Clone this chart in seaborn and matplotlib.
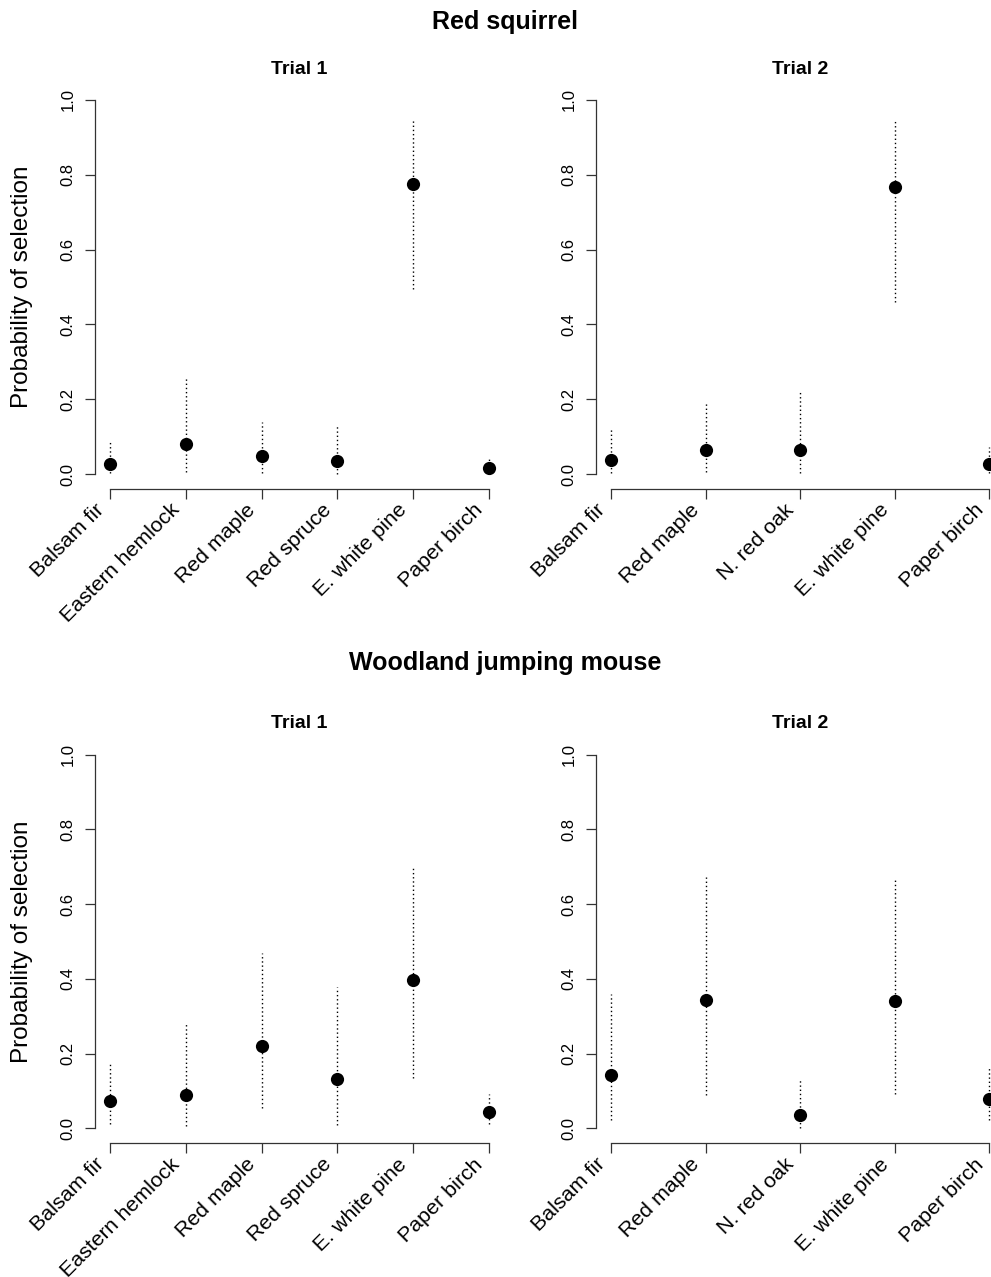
import matplotlib
matplotlib.use("Agg")
import matplotlib.pyplot as plt
import matplotlib.transforms as mtransforms
import seaborn as sns
import pandas as pd

# ---------------- data ----------------
species_titles = ["Red squirrel", "Woodland jumping mouse"]
trial_titles = ["Trial 1", "Trial 2"]

trial1_trees = ["Balsam fir", "Eastern hemlock", "Red maple", "Red spruce",
                "E. white pine", "Paper birch"]
trial2_trees = ["Balsam fir", "Red maple", "N. red oak", "E. white pine",
                "Paper birch"]

squirrel_t1_mean = [0.027, 0.079, 0.048, 0.036, 0.775, 0.016]
squirrel_t1_lower = [0.003, 0.006, 0.004, 0.001, 0.494, 0.002]
squirrel_t1_upper = [0.091, 0.258, 0.138, 0.134, 0.948, 0.039]

squirrel_t2_mean = [0.038, 0.065, 0.065, 0.767, 0.028]
squirrel_t2_lower = [0.002, 0.006, 0.002, 0.460, 0.002]
squirrel_t2_upper = [0.124, 0.193, 0.222, 0.948, 0.073]

mouse_t1_mean = [0.073, 0.089, 0.220, 0.131, 0.396, 0.044]
mouse_t1_lower = [0.012, 0.006, 0.055, 0.009, 0.136, 0.012]
mouse_t1_upper = [0.178, 0.280, 0.470, 0.379, 0.700, 0.091]

mouse_t2_mean = [0.143, 0.343, 0.036, 0.340, 0.078]
mouse_t2_lower = [0.022, 0.089, 0.000, 0.091, 0.022]
mouse_t2_upper = [0.360, 0.673, 0.134, 0.664, 0.167]

y_ticks = [0.0, 0.2, 0.4, 0.6, 0.8, 1.0]
y_label = "Probability of selection"

# ---------------- style ----------------
sns.set_theme(style="white")
plt.rcParams["font.family"] = ["Liberation Sans", "DejaVu Sans"]
plt.rcParams["text.color"] = "black"
plt.rcParams["axes.labelcolor"] = "black"
plt.rcParams["xtick.color"] = "black"
plt.rcParams["ytick.color"] = "black"

W, H = 991, 1277
fig = plt.figure(figsize=(W / 100, H / 100), dpi=100)

panels = [
    (0, 0, trial1_trees, squirrel_t1_mean, squirrel_t1_lower, squirrel_t1_upper),
    (0, 1, trial2_trees, squirrel_t2_mean, squirrel_t2_lower, squirrel_t2_upper),
    (1, 0, trial1_trees, mouse_t1_mean, mouse_t1_lower, mouse_t1_upper),
    (1, 1, trial2_trees, mouse_t2_mean, mouse_t2_lower, mouse_t2_upper),
]

# axes positions in pixels (left, top, right, bottom)
col_px = [(95.2, 503.8), (595.9, 1004.4)]
row_px = [(85.0, 489.0), (739.7, 1143.3)]

spine_col = "#333333"
shift = mtransforms.ScaledTranslation(-9 / 100, 0, fig.dpi_scale_trans)

for r, c, trees, mean, lo, hi in panels:
    x0, x1 = col_px[c]
    y0, y1 = row_px[r]
    ax = fig.add_axes([x0 / W, 1 - y1 / H, (x1 - x0) / W, (y1 - y0) / H])
    df = pd.DataFrame({"tree": trees, "mean": mean, "lower": lo, "upper": hi})
    n = len(trees)
    pos = list(range(n))
    ax.vlines(pos, df["lower"], df["upper"], colors="black", linewidth=1.0,
              linestyles=(0, (1, 2)), zorder=1)
    sns.stripplot(data=df, x="tree", y="mean", order=trees, jitter=False,
                  color="black", size=9.5, linewidth=0, ax=ax, zorder=3)
    pad = 0.04 * (n - 1)
    ax.set_xlim(-pad, n - 1 + pad)
    ax.set_ylim(-0.04, 1.04)
    ax.set_xlabel("")
    ax.set_ylabel("")
    ax.tick_params(axis="x", length=7, width=0.9, color=spine_col, pad=6,
                   bottom=True, direction="out")
    ax.tick_params(axis="y", length=7, width=0.9, color=spine_col, pad=7,
                   left=True, direction="out", labelsize=12, labelcolor="black")
    ax.set_yticks(y_ticks)
    ax.set_yticklabels([f"{v:.1f}" for v in y_ticks])
    ax.set_xticks(pos)
    ax.set_xticklabels(trees, rotation=45, ha="right", va="center",
                       rotation_mode="anchor", fontsize=15.4, color="black")
    for lab in ax.get_xticklabels():
        lab.set_transform(lab.get_transform() + shift)
    for t in ax.get_yticklabels():
        t.set_rotation(90)
        t.set_va("center")
    for s in ["top", "right"]:
        ax.spines[s].set_visible(False)
    ax.spines["left"].set_bounds(0, 1)
    ax.spines["bottom"].set_bounds(0, n - 1)
    for s in ["left", "bottom"]:
        ax.spines[s].set_color(spine_col)
        ax.spines[s].set_linewidth(0.9)
    ax.grid(False)
    # trial title
    title_y = [69, 723][r]
    fig.text((x0 + x1) / 2 / W, 1 - title_y / H, trial_titles[c],
             ha="center", va="center", fontsize=14, fontweight="bold")
    if c == 0:
        fig.text(22 / W, 1 - ((y0 + 15) + (y1 - 15)) / 2 / H, y_label,
                 rotation=90, ha="center", va="center", fontsize=17.5)

fig.text(505 / W, 1 - 22 / H, species_titles[0], ha="center", va="center",
         fontsize=18, fontweight="bold")
fig.text(505 / W, 1 - 663 / H, species_titles[1], ha="center", va="center",
         fontsize=18, fontweight="bold")

fig.savefig("out.png", dpi=100)
